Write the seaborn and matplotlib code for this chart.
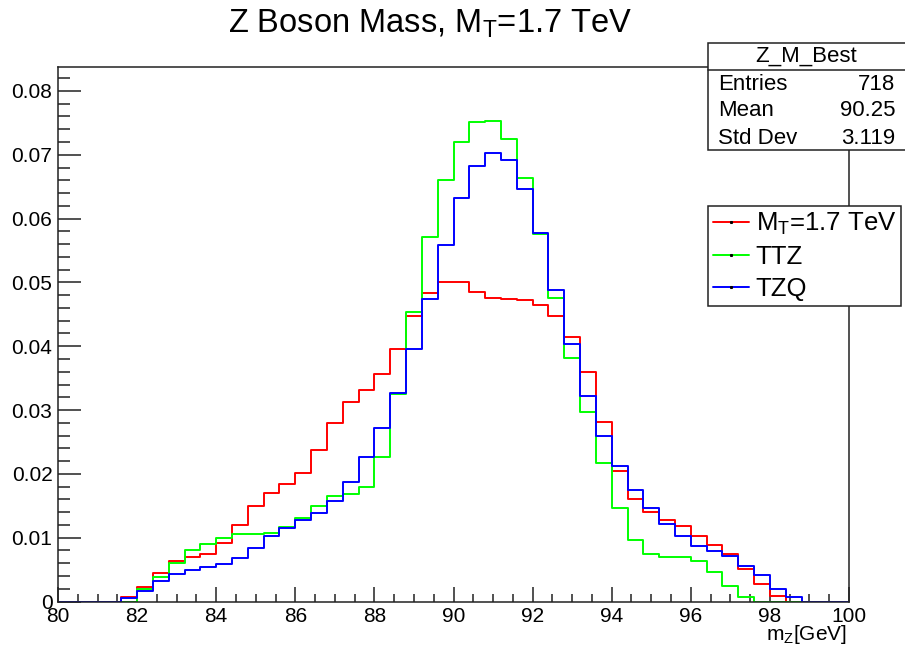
import numpy as np
import pandas as pd
import matplotlib
matplotlib.use("Agg")
import matplotlib.pyplot as plt
from matplotlib.ticker import MultipleLocator, FuncFormatter
from matplotlib.patches import Rectangle
from matplotlib.lines import Line2D
import seaborn as sns

# ---------------- data ----------------
bin_lo, bin_hi, bin_w = 80.0, 100.0, 0.4
bin_centers = np.round(np.arange(80.2, 100.0, 0.4), 2)

mt17 = [0, 0, 0, 0, 0.0007, 0.0022, 0.0045, 0.0063, 0.0069, 0.0075,
        0.0092, 0.0120, 0.0149, 0.0170, 0.0184, 0.0201, 0.0237, 0.0280, 0.0312, 0.0332,
        0.0356, 0.0396, 0.0447, 0.0484, 0.0501, 0.0500, 0.0485, 0.0475, 0.0474, 0.0472,
        0.0464, 0.0447, 0.0414, 0.0359, 0.0281, 0.0205, 0.0160, 0.0140, 0.0127, 0.0118,
        0.0102, 0.0089, 0.0074, 0.0051, 0.0028, 0.0009, 0, 0, 0, 0]
ttz = [0, 0, 0, 0, 0, 0.0020, 0.0038, 0.0061, 0.0080, 0.0090,
       0.0100, 0.0105, 0.0106, 0.0107, 0.0116, 0.0131, 0.0150, 0.0165, 0.0168, 0.0180,
       0.0227, 0.0325, 0.0453, 0.0571, 0.0660, 0.0720, 0.0751, 0.0753, 0.0725, 0.0663,
       0.0576, 0.0475, 0.0381, 0.0297, 0.0217, 0.0147, 0.0096, 0.0074, 0.0070, 0.0069,
       0.0063, 0.0047, 0.0025, 0.0007, 0, 0, 0, 0, 0, 0]
tzq = [0, 0, 0, 0, 0.0005, 0.0016, 0.0032, 0.0043, 0.0050, 0.0054,
       0.0059, 0.0068, 0.0084, 0.0102, 0.0115, 0.0127, 0.0138, 0.0157, 0.0188, 0.0226,
       0.0272, 0.0327, 0.0396, 0.0474, 0.0559, 0.0632, 0.0683, 0.0703, 0.0692, 0.0647,
       0.0577, 0.0488, 0.0403, 0.0322, 0.0259, 0.0213, 0.0174, 0.0146, 0.0122, 0.0102,
       0.0087, 0.0079, 0.0071, 0.0056, 0.0041, 0.0020, 0.0007, 0, 0, 0]

series_names = ["M$_{\\mathregular{T}}$=1.7 TeV", "TTZ", "TZQ"]
series_colors = ["#ff0000", "#00ff00", "#0000ff"]
x_ticks = [80, 82, 84, 86, 88, 90, 92, 94, 96, 98, 100]
y_ticks = [0, 0.01, 0.02, 0.03, 0.04, 0.05, 0.06, 0.07, 0.08]

stats_title = "Z_M_Best"
stats_labels = ["Entries", "Mean", "Std Dev"]
stats_values = ["718", "90.25", "3.119"]

# ---------------- style ----------------
sns.set_style("ticks")
plt.rcParams["font.family"] = ["Liberation Sans", "DejaVu Sans"]
plt.rcParams["mathtext.fontset"] = "custom"
plt.rcParams["mathtext.rm"] = "Liberation Sans"
plt.rcParams["mathtext.it"] = "Liberation Sans"
plt.rcParams["text.color"] = "black"
plt.rcParams["axes.labelcolor"] = "black"
plt.rcParams["xtick.color"] = "black"
plt.rcParams["ytick.color"] = "black"

W, H = 905, 654
fig = plt.figure(figsize=(W / 100, H / 100), dpi=100)

def fx(px):
    return px / W

def fy(py):
    return 1 - py / H

ax_l, ax_r, ax_t, ax_b = 58, 849, 66.7, 601.5
ax = fig.add_axes([fx(ax_l), fy(ax_b), (ax_r - ax_l) / W, (ax_b - ax_t) / H])

for name, vals, col in zip(series_names, [mt17, ttz, tzq], series_colors):
    d = pd.DataFrame({"mass": bin_centers, "w": vals})
    sns.histplot(data=d, x="mass", weights="w", binwidth=bin_w, binrange=(bin_lo, bin_hi),
                 element="step", fill=False, color=col, linewidth=1.4, ax=ax, stat="count")

ax.set_xlim(80, 100)
ax.set_ylim(0, 0.0838)
ax.set_xticks(x_ticks)
ax.set_yticks(y_ticks)
ax.xaxis.set_minor_locator(MultipleLocator(0.5))
ax.yaxis.set_minor_locator(MultipleLocator(0.002))
ax.yaxis.set_major_formatter(FuncFormatter(lambda v, p: "0" if abs(v) < 1e-9 else f"{v:.2f}"))
ax.xaxis.set_major_formatter(FuncFormatter(lambda v, p: f"{v:.0f}"))
ax.tick_params(axis="both", which="both", direction="in", colors="#222222",
               labelcolor="black", width=1.1, labelsize=15)
ax.tick_params(axis="x", which="major", length=10.8, pad=4)
ax.tick_params(axis="x", which="minor", length=5.6)
ax.tick_params(axis="y", which="major", length=16.5, pad=4)
ax.tick_params(axis="y", which="minor", length=8.5)
for s in ax.spines.values():
    s.set_visible(True)
    s.set_linewidth(1.1)
    s.set_color("#222222")
ax.set_ylabel("")
ax.set_xlabel("m$_{\\mathregular{Z}}$[GeV]", fontsize=15, loc="right", color="black")
ax.xaxis.set_label_coords((847 - ax_l) / (ax_r - ax_l), -(635 - ax_b) / (ax_b - ax_t))
ax.xaxis.label.set_verticalalignment("center")

# title
fig.text(fx(430), fy(24), "Z Boson Mass, M$_{\\mathregular{T}}$=1.7 TeV",
         ha="center", va="center", fontsize=23.5, color="black")

# stats box
fig.add_artist(Rectangle((fx(708), fy(150)), fx(910) - fx(708), fy(43) - fy(150),
                         transform=fig.transFigure, facecolor="white",
                         edgecolor="#222222", linewidth=1.1, zorder=5))
fig.add_artist(Line2D([fx(708), fx(910)], [fy(69.5), fy(69.5)],
                      transform=fig.transFigure, color="#222222", linewidth=1.1, zorder=6))
fig.text(fx(806), fy(56), stats_title, ha="center", va="center", fontsize=16, zorder=7)
for i, (lab, val) in enumerate(zip(stats_labels, stats_values)):
    yy = 84 + i * 27
    fig.text(fx(718), fy(yy), lab, ha="left", va="center", fontsize=16, zorder=7)
    fig.text(fx(895), fy(yy), val, ha="right", va="center", fontsize=16, zorder=7)

# legend
handles = [Line2D([], [], color=c, linewidth=1.4, marker="s", markersize=1.2,
                  markerfacecolor="black", markeredgecolor="black")
           for c in series_colors]
leg = fig.legend(handles, series_names, loc="upper left",
                 bbox_to_anchor=(fx(708), fy(206)), bbox_transform=fig.transFigure,
                 fontsize=18.5, frameon=True, fancybox=False, framealpha=1,
                 edgecolor="#222222", borderpad=0.2, labelspacing=0.3,
                 handlelength=1.4, handletextpad=0.25, borderaxespad=0)
leg.get_frame().set_linewidth(1.1)
leg.set_zorder(8)
for t in leg.get_texts():
    t.set_color("black")

fig.savefig("out.png", dpi=100)
